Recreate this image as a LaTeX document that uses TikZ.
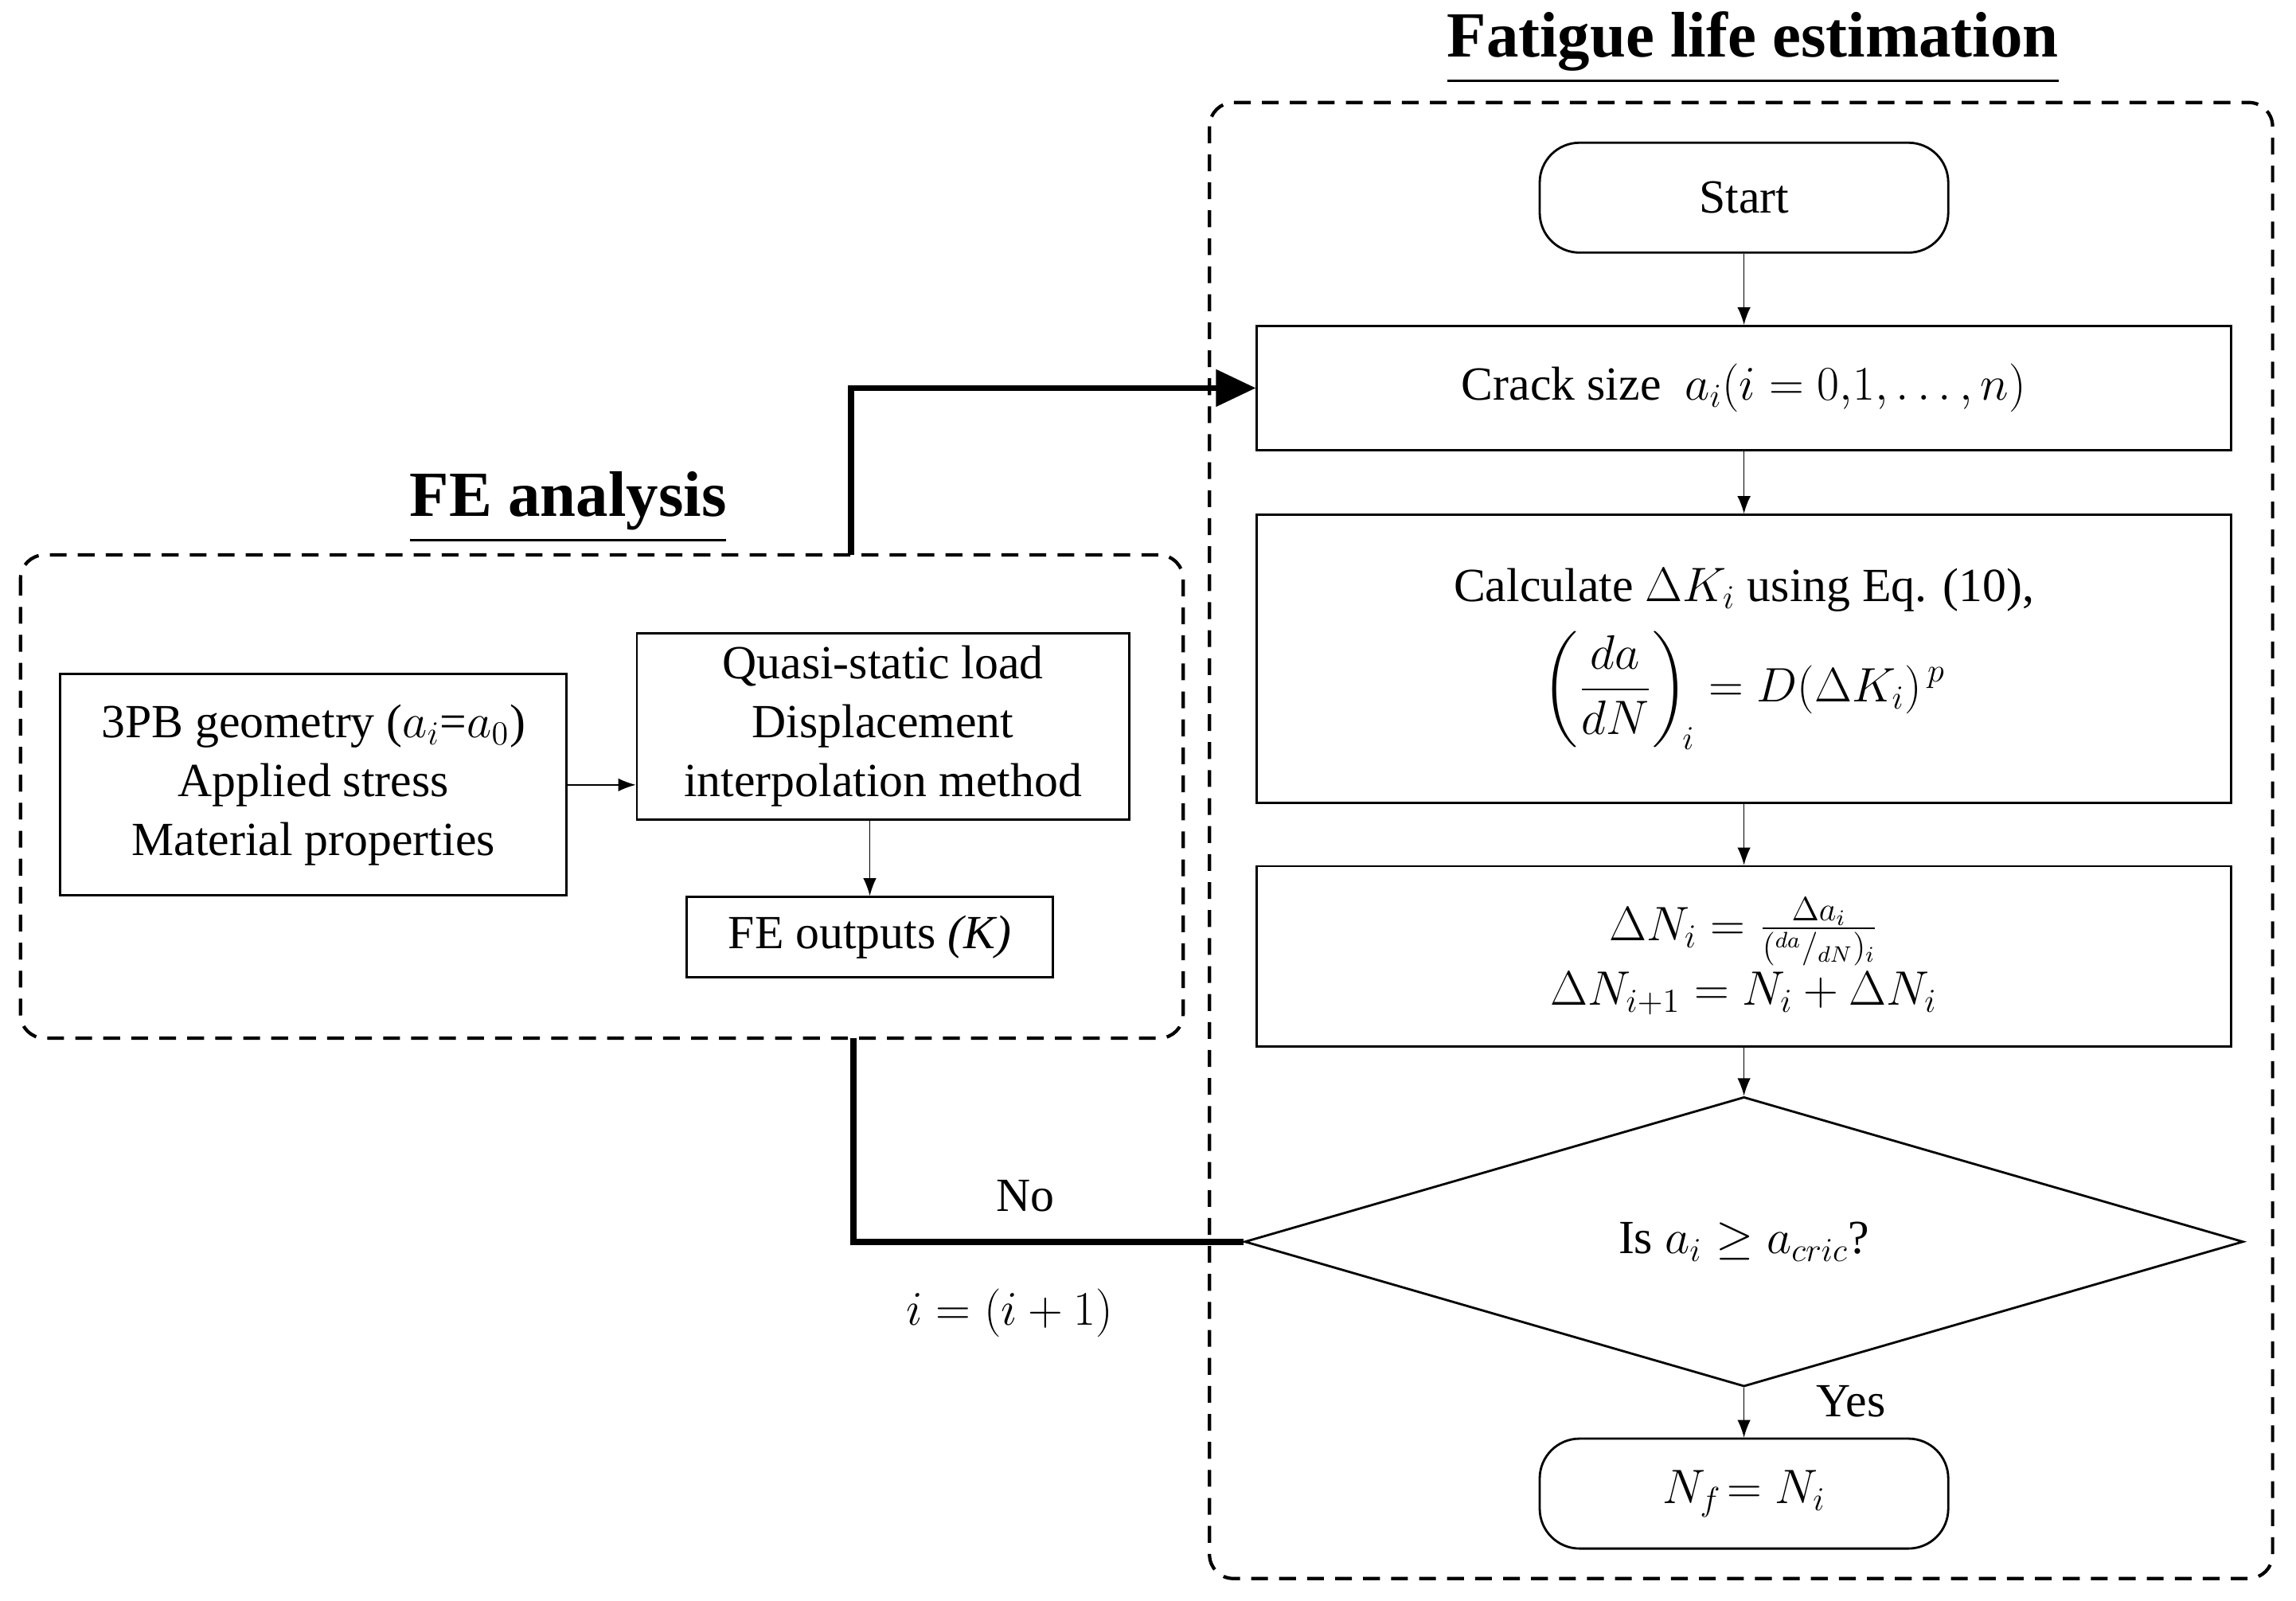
\documentclass[tikz,border=0pt]{standalone}
\usepackage{amsmath}
\usepackage{fontspec}
\setmainfont{Liberation Serif}
\usetikzlibrary{shapes.geometric,arrows.meta}
\begin{document}
\fontsize{17}{21}\selectfont
\begin{tikzpicture}[x=0.01839cm,y=-0.01839cm,every text node part/.style={align=center},
box/.style={draw,thick,inner sep=0pt},
term/.style={box,rounded corners=0.5cm},
group/.style={draw,line width=1.2pt,dash pattern=on 6pt off 4pt,rounded corners=0.3cm},
flow/.style={-{Latex[length=2.2mm]}},
main/.style={line width=2.2pt},
title/.style={font=\fontsize{23}{27}\selectfont\bfseries}]
\useasboundingbox (0,0) rectangle (1568,1093);
% groups
\draw[group] (826,70) rectangle (1552,1078);
\draw[group] (14,379) rectangle (808,709);
\node[title] (ttlFatigue) at (1197,33) {\underline{Fatigue life estimation}};
\node[title] (ttlFE) at (388,347) {\underline{FE analysis}};
% fatigue flow
\node[term,minimum width=5.13cm,minimum height=1.38cm] (start) at (1191,135) {Start};
\node[box,minimum width=12.23cm,minimum height=1.56cm] (crack) at (1191,265) {Crack size\ \ $a_i(i=0{,}1,\dots,n)$};
\node[box,minimum width=12.23cm,minimum height=3.62cm] (calc) at (1191,450) {Calculate $\Delta K_i$ using Eq. (10),\\[6pt] $\displaystyle\left(\frac{da}{dN}\right)_{\!i} = D(\Delta K_i)^{\,p}$};
\node[box,minimum width=12.23cm,minimum height=2.26cm] (dN) at (1191,653) {$\Delta N_i=\frac{\Delta a_i}{({}^{da}/{}_{dN})_i}$\\[2pt] $\Delta N_{i+1}=N_i+\Delta N_i$};
\node[draw,thick,diamond,inner sep=0pt,minimum width=12.54cm,minimum height=3.2cm] (check) at (1191,848) {Is $a_i\ge a_{cric}$?};
\node[term,minimum width=5.13cm,minimum height=1.38cm] (Nf) at (1191,1020) {$N_f\!=N_i$};
\draw[flow] (start) -- (crack);
\draw[flow] (crack) -- (calc);
\draw[flow] (calc) -- (dN);
\draw[flow] (dN) -- (check);
\draw[flow] (check) -- node[right,xshift=20pt,yshift=4pt] (yes) {Yes} (Nf);
% FE analysis
\node[box,minimum width=6.36cm,minimum height=2.78cm] (geom) at (214,536) {3PB geometry ($a_i$=$a_0$)\\Applied stress\\Material properties};
\node[box,minimum width=6.18cm,minimum height=2.34cm] (quasi) at (603,496) {Quasi-static load\\Displacement\\interpolation method};
\node[box,minimum width=4.6cm,minimum height=1.01cm] (out) at (594,640) {FE outputs \textit{(K)}};
\draw[flow] (geom) -- (quasi.west |- geom);
\draw[flow] (quasi.south -| out) -- (out);
% loop
\coordinate (feTop) at (581,379);
\coordinate (feBot) at (583,709);
\draw[main,-{Triangle[length=5mm,width=4.5mm]}] (feTop) |- (crack.west);
\draw[main] (check.west) -| node[pos=0.28,above=4pt] (no) {No} node[pos=0.3,below=10pt] (inc) {$i=(i+1)$} (feBot);
\end{tikzpicture}
\end{document}
